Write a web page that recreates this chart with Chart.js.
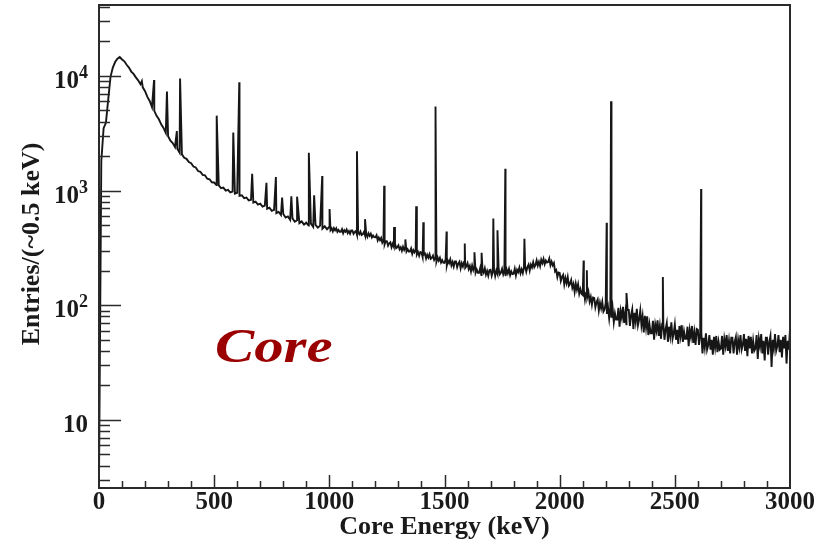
<!DOCTYPE html>
<html>
<head>
<meta charset="utf-8">
<script src="https://cdn.jsdelivr.net/npm/chart.js@4.4.1/dist/chart.umd.min.js"></script>
<style>
  html, body { margin: 0; padding: 0; background: #fff; }
  #spectrum { display: block; }
</style>
</head>
<body>
<canvas id="spectrum" width="829" height="548"></canvas>
<script>
// Core spectrum, counts per bin.
// 0-990 keV in 10 keV steps, 1000-3000 keV in 5 keV steps
const lowStart = 0, lowStep = 10;
const lowBins = [
  3, 1800, 3500, 3900, 6200, 9800, 11800, 13200, 14100, 14600,
  13900, 13400, 12500, 11800, 10900, 10400, 9700, 9150, 8450, 7950,
  7350, 6550, 6050, 5350, 4950, 4480, 4180, 3780, 3520, 3180,
  2980, 2720, 2600, 2400, 2320, 2140, 2070, 1930, 1890, 1770,
  1730, 1620, 1590, 1480, 1460, 1370, 1360, 1270, 1255, 1180,
  1175, 1115, 1110, 1050, 1060, 1000, 1015, 965, 980, 940,
  955, 900, 910, 860, 870, 820, 830, 785, 800, 755,
  770, 725, 740, 695, 710, 665, 680, 635, 650, 612,
  625, 582, 595, 555, 572, 535, 552, 520, 538, 505,
  525, 495, 515, 482, 503, 475, 495, 466, 488, 460
];
const highStart = 1000, highStep = 5;
const highBins = [
  483, 452, 468, 441, 471, 450, 469, 437, 453, 438,
  438, 460, 425, 451, 437, 458, 426, 443, 421, 448,
  448, 419, 435, 444, 411, 435, 417, 439, 410, 417,
  435, 406, 421, 395, 424, 403, 421, 390, 405, 392,
  391, 408, 368, 389, 370, 386, 350, 364, 339, 363,
  361, 331, 346, 354, 320, 343, 324, 345, 315, 320,
  333, 307, 320, 298, 323, 304, 321, 294, 307, 294,
  294, 312, 281, 302, 289, 305, 277, 291, 270, 291,
  288, 263, 277, 283, 256, 275, 260, 278, 254, 259,
  271, 248, 259, 240, 261, 245, 259, 236, 247, 235,
  234, 253, 222, 245, 233, 251, 223, 238, 218, 241,
  241, 215, 231, 240, 210, 233, 218, 239, 212, 219,
  233, 207, 220, 197, 222, 203, 220, 192, 205, 192,
  192, 211, 183, 204, 193, 210, 185, 199, 181, 202,
  204, 181, 197, 205, 180, 201, 188, 208, 186, 193,
  208, 186, 200, 180, 205, 190, 207, 183, 197, 187,
  188, 208, 182, 204, 195, 213, 190, 206, 191, 214,
  219, 196, 215, 226, 201, 226, 214, 237, 215, 224,
  246, 222, 239, 219, 249, 233, 253, 228, 245, 236,
  238, 256, 223, 240, 223, 233, 197, 203, 176, 193,
  191, 163, 177, 184, 152, 173, 156, 176, 148, 154,
  166, 142, 153, 131, 154, 137, 152, 126, 138, 126,
  123, 137, 112, 128, 118, 130, 108, 118, 101, 117,
  116, 96, 106, 112, 90, 105, 94, 107, 88, 92,
  105, 84, 96, 77, 96, 78, 94, 71, 85, 75,
  75, 95, 65, 89, 78, 97, 70, 86, 67, 91,
  91, 66, 82, 92, 62, 86, 72, 93, 67, 75,
  90, 67, 80, 58, 81, 64, 80, 55, 68, 57,
  57, 73, 50, 68, 60, 74, 54, 66, 51, 69,
  69, 50, 62, 70, 48, 65, 54, 71, 51, 57,
  68, 50, 61, 46, 66, 54, 67, 48, 59, 51,
  51, 65, 44, 61, 53, 66, 47, 58, 45, 62,
  61, 45, 56, 58, 38, 52, 43, 57, 41, 45,
  55, 41, 50, 37, 53, 43, 54, 39, 48, 41,
  42, 54, 37, 51, 44, 55, 40, 49, 38, 52,
  52, 38, 48, 53, 37, 50, 43, 55, 41, 45,
  56, 40, 51, 36, 54, 42, 53, 38, 49, 40,
  42, 55, 34, 51, 44, 56, 38, 49, 33, 52,
  52, 37, 48, 54, 29, 50, 42, 56, 40, 44,
  55, 39, 50, 35, 53, 42, 55, 31, 49, 41,
  62
];

// gamma lines: [energy keV, counts at the line maximum]
const peaks = [
  [186, 9000], [239, 9200], [295, 7300], [338, 3300], [352, 9500],
  [511, 4500], [583, 3200], [609, 8800], [665, 1400], [727, 1170],
  [768, 1310], [795, 870], [835, 890], [860, 885], [911, 2140],
  [934, 910], [969, 1340], [1001, 690], [1120, 2200], [1155, 563],
  [1238, 1100], [1281, 480], [1330, 375], [1377, 730], [1408, 530],
  [1461, 5400], [1509, 440], [1588, 346], [1630, 290], [1661, 287],
  [1712, 570], [1730, 450], [1764, 1550], [1847, 380], [2104, 245],
  [2118, 202], [2204, 525], [2223, 6000], [2290, 128], [2448, 176],
  [2614, 1030]
];

const xTickValues = [0, 500, 1000, 1500, 2000, 2500, 3000];
const xTickLabels = ['0', '500', '1000', '1500', '2000', '2500', '3000'];
const yTickValues = [10, 100, 1000, 10000];
const yTickMantissa = ['10', '10', '10', '10'];
const yTickExponent = ['', '2', '3', '4'];

const points = lowBins.map((v, i) => ({ x: lowStart + i * lowStep, y: v }))
  .concat(highBins.map((v, i) => ({ x: highStart + i * highStep, y: v })))
  .concat(peaks.map(p => ({ x: p[0], y: p[1] })))
  .sort((a, b) => a.x - b.x);

const serif = '"Liberation Serif", "Times New Roman", serif';

// ROOT-like frame: inward ticks, bold serif labels, power-of-ten y labels
const rootFrame = {
  id: 'rootFrame',
  afterDraw(chart) {
    const { ctx, chartArea: a } = chart;
    const xs = chart.scales.x, ys = chart.scales.y;
    ctx.save();
    ctx.strokeStyle = '#2a2a2a';
    ctx.lineWidth = 1.5;
    ctx.beginPath();
    for (let e = 100; e < 3000; e += 100) {
      const px = Math.round(xs.getPixelForValue(e)) + 0.5;
      const len = e % 500 === 0 ? 13 : 7;
      ctx.moveTo(px, a.bottom);
      ctx.lineTo(px, a.bottom - len);
    }
    for (let dec = 1; dec <= 10000; dec *= 10) {
      for (let m = 1; m <= 9; m++) {
        const v = m * dec;
        if (v < ys.min || v > ys.max) continue;
        const py = Math.round(ys.getPixelForValue(v)) + 0.5;
        ctx.moveTo(a.left, py);
        ctx.lineTo(a.left + (m === 1 ? 22 : 11), py);
      }
    }
    ctx.stroke();

    ctx.lineWidth = 2;
    ctx.strokeRect(a.left, a.top, a.right - a.left, a.bottom - a.top);

    ctx.fillStyle = '#1a1a1a';
    ctx.font = 'bold 25px ' + serif;
    ctx.textAlign = 'center';
    ctx.textBaseline = 'alphabetic';
    xTickValues.forEach((v, i) => {
      ctx.fillText(xTickLabels[i], xs.getPixelForValue(v), 509);
    });

    ctx.textAlign = 'right';
    yTickValues.forEach((v, i) => {
      const py = ys.getPixelForValue(v);
      let right = 88;
      if (yTickExponent[i]) {
        ctx.font = 'bold 18px ' + serif;
        ctx.fillText(yTickExponent[i], right, py + 2);
        right -= ctx.measureText(yTickExponent[i]).width;
      }
      ctx.font = 'bold 25px ' + serif;
      ctx.fillText(yTickMantissa[i], right, py + 12);
    });

    ctx.textAlign = 'center';
    ctx.font = 'bold 26px ' + serif;
    ctx.fillText('Core Energy (keV)', (a.left + a.right) / 2, 534);

    ctx.save();
    ctx.translate(39, 244);
    ctx.rotate(-Math.PI / 2);
    ctx.font = 'bold 26px ' + serif;
    ctx.fillText('Entries/(~0.5 keV)', 0, 0);
    ctx.restore();

    // detector label, wide bold italic
    ctx.save();
    ctx.translate(215, 362);
    ctx.scale(1.2, 1);
    ctx.textAlign = 'left';
    ctx.fillStyle = '#9b0000';
    ctx.font = 'italic bold 49px ' + serif;
    ctx.fillText('Core', 0, 0);
    ctx.restore();
    ctx.restore();
  }
};

new Chart(document.getElementById('spectrum'), {
  type: 'line',
  data: {
    datasets: [{
      data: points,
      borderColor: '#161616',
      borderWidth: 1.9,
      pointRadius: 0,
      tension: 0,
      fill: false
    }]
  },
  options: {
    responsive: false,
    devicePixelRatio: 1,
    animation: false,
    layout: { padding: { top: 5, right: 39, bottom: 0, left: 0 } },
    plugins: { legend: { display: false }, tooltip: { enabled: false } },
    scales: {
      x: {
        type: 'linear', min: 0, max: 3000,
        grid: { display: false }, border: { display: false },
        ticks: { display: false },
        afterFit(scale) { scale.height = 60; }
      },
      y: {
        type: 'logarithmic', min: 2.55, max: 41500, bounds: 'data',
        grid: { display: false }, border: { display: false },
        ticks: { display: false },
        afterFit(scale) { scale.width = 99; }
      }
    }
  },
  plugins: [rootFrame]
});
</script>
</body>
</html>
